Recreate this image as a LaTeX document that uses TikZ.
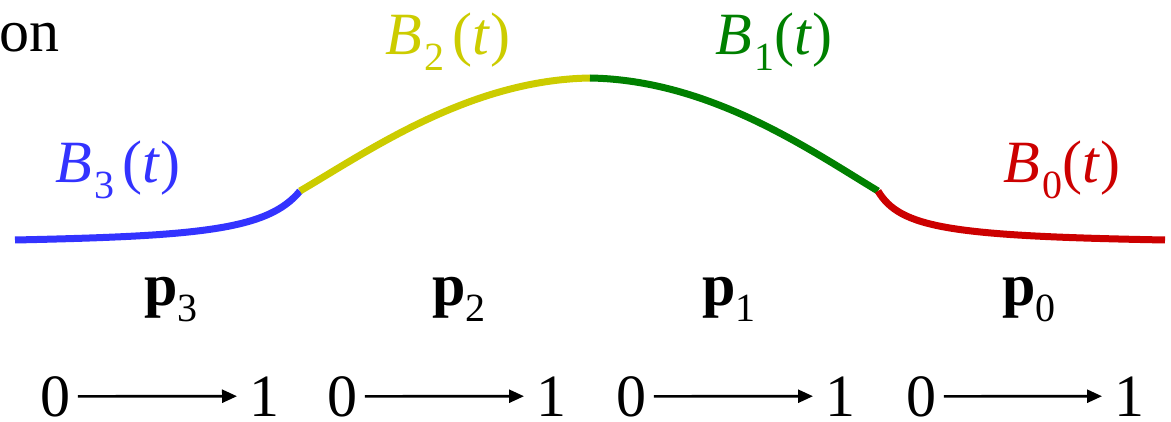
\documentclass[tikz,border=0pt]{standalone}
\usepackage{fontspec}
\setmainfont{Liberation Serif}
\newfontfamily\tms{Liberation Serif}
\usetikzlibrary{arrows.meta}
\definecolor{cblue}{RGB}{51,51,255}
\definecolor{cyel}{RGB}{204,204,0}
\definecolor{cgreen}{RGB}{0,128,0}
\definecolor{cred}{RGB}{204,0,0}
\newcommand\lsub[1]{\raisebox{-16pt}{\fontsize{40}{40}\selectfont #1}}
\begin{document}
\begin{tikzpicture}[x=1pt,y=-1pt,font=\tms\fontsize{60}{72}\selectfont,
  lbl/.style={anchor=base west,inner sep=0pt},
  seg/.style={line width=7pt,line cap=butt},
  num/.style={anchor=base west,inner sep=0pt},
  arr/.style={line width=2.6pt,-{Triangle[length=15pt,width=13pt]},shorten <=7pt,shorten >=12pt}]
\useasboundingbox (0,0) rectangle (1171,422);
% curve
\coordinate (s0) at (15,240);
\coordinate (s1) at (300,191);
\coordinate (s2) at (590,78);
\coordinate (s3) at (878,191);
\coordinate (s4) at (1165,240);
\draw[seg,cblue] (s0) .. controls (200,236) and (268,230) .. (s1);
\draw[seg,cyel] (s1) .. controls (370,150) and (470,80) .. (s2);
\draw[seg,cgreen] (s2) .. controls (710,80) and (810,150) .. (s3);
\draw[seg,cred] (s3) .. controls (900,228) and (950,236) .. (s4);
% texts
\node[lbl] (on) at (-1,52) {on};
\node[lbl,text=cblue] (b3) at (55,183) {\textit{B}\kern3pt\lsub{3}\kern8pt(\textit{t})};
\node[lbl,text=cyel] (b2) at (385,55) {\textit{B}\kern3pt\lsub{2}\kern8pt(\textit{t})};
\node[lbl,text=cgreen] (b1) at (715,55) {\textit{B}\kern3pt\lsub{1}(\textit{t})};
\node[lbl,text=cred] (b0) at (1003,183) {\textit{B}\kern3pt\lsub{0}(\textit{t})};
\node[lbl] (p3) at (144,306) {\textbf{p}\lsub{3}};
\node[lbl] (p2) at (432,306) {\textbf{p}\lsub{2}};
\node[lbl] (p1) at (702,306) {\textbf{p}\lsub{1}};
\node[lbl] (p0) at (1002,306) {\textbf{p}\lsub{0}};
% parameter ranges
\foreach \i/\a/\b in {3/40.5/249, 2/327.5/536, 1/616.5/825, 0/906.5/1114}{
  \node[num] (z\i) at (\a,416) {0};
  \node[num] (o\i) at (\b,416) {1};
  \draw[arr] (z\i) -- (o\i);
}
\end{tikzpicture}
\end{document}
